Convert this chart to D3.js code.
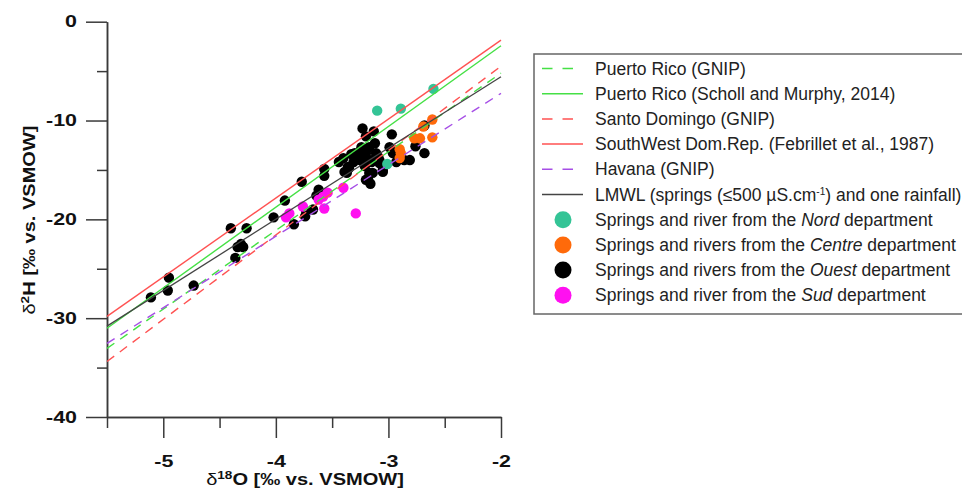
<!DOCTYPE html>
<html>
<head>
<meta charset="utf-8">
<script src="https://cdn.jsdelivr.net/npm/d3@7"></script>
<style>
  body { margin: 0; background: #fff; }
  svg { display: block; font-family: "Liberation Sans", Arial, sans-serif; }
</style>
</head>
<body>
<svg id="chart" width="962" height="495"></svg>
<script>
// samples, [d18O, d2H]
const nord = [[-3.10, -9.0], [-2.89, -8.8], [-2.60, -6.8], [-3.01, -14.4]]

const centre = [
    [-2.61, -9.9], [-2.69, -10.6], [-2.61, -11.7], [-2.77, -11.8], [-2.72, -11.8],
    [-2.90, -12.9], [-2.89, -13.3], [-2.90, -13.8]
]

const ouest = [
    [-5.11, -27.9], [-4.95, -25.9], [-4.96, -27.2], [-4.73, -26.7], [-4.40, -20.9],
    [-4.26, -20.9], [-4.34, -22.8], [-4.31, -22.5], [-4.29, -22.8], [-4.36, -23.9],
    [-4.02, -19.8], [-3.92, -18.1], [-3.84, -20.5], [-3.77, -16.2], [-3.74, -19.7],
    [-3.73, -19.2], [-3.67, -19.0], [-3.64, -17.6], [-3.62, -17.0], [-3.57, -14.9],
    [-3.57, -15.6], [-3.44, -14.2], [-3.40, -13.8], [-3.37, -15.3], [-3.35, -14.8],
    [-3.33, -13.4], [-3.31, -14.2], [-3.26, -13.8], [-3.23, -10.8], [-3.20, -11.6],
    [-3.13, -11.1], [-3.24, -12.7], [-3.20, -13.3], [-3.21, -14.6], [-3.20, -16.0],
    [-3.16, -16.4], [-3.12, -12.3], [-3.11, -13.3], [-3.14, -14.0], [-3.17, -15.3],
    [-3.09, -13.7], [-3.08, -14.3], [-3.05, -15.2], [-2.97, -11.4], [-2.99, -12.7],
    [-2.96, -13.3], [-2.93, -14.2], [-2.81, -14.0], [-2.76, -12.6], [-2.68, -10.5],
    [-2.68, -13.3], [-3.30, -13.3], [-3.24, -13.0], [-3.25, -14.0], [-3.20, -13.7],
    [-3.21, -14.5], [-3.15, -14.2], [-3.17, -12.7], [-3.08, -14.0], [-3.14, -15.3],
    [-3.18, -16.0], [-3.05, -15.0], [-2.93, -13.2], [-3.39, -15.2], [-3.36, -14.7],
    [-2.86, -14.0]
]

const sud = [
    [-3.91, -19.8], [-3.88, -19.4], [-3.76, -18.7], [-3.62, -18.0], [-3.58, -17.7],
    [-3.54, -17.3], [-3.57, -18.9], [-3.40, -16.8], [-3.29, -19.4]
]

// meteoric water lines: d2H = slope * d18O + intercept
const lineNames = ['prGnip', 'prScholl', 'sdGnip', 'swDomRep', 'havana', 'lmwl']
const lineSlopes = [7.96, 8.17, 8.54, 7.99, 7.23, 7.21]
const lineIntercepts = [10.72, 13.91, 12.58, 14.12, 7.21, 8.85]

const xMajorTicks = [-5, -4, -3, -2]
const xMinorTicks = [-5.5, -4.5, -3.5, -2.5]
const yMajorTicks = [-40, -30, -20, -10, 0]
const yMinorTicks = [-35, -25, -15, -5]

const lineStyle = {
    prGnip: { color: '#45e045', dash: '9,7' },
    prScholl: { color: '#45e045', dash: null },
    sdGnip: { color: '#ff5252', dash: '9,7' },
    swDomRep: { color: '#ff5252', dash: null },
    havana: { color: '#a64ee6', dash: '9,7' },
    lmwl: { color: '#444', dash: null }
}

const groupColor = { nord: '#34c496', centre: '#ff6a0a', ouest: '#000', sud: '#ff10f0' }

const svg = d3.select('#chart')

const x = d3.scaleLinear().domain([-5.5, -2]).range([107, 501])
const y = d3.scaleLinear().domain([-40, 0]).range([417, 21.7])

const axisColor = '#3a3a3a'
const stretch = 1.3

const styleAxis = g => {
    g.selectAll('.domain, .tick line')
        .attr('stroke', axisColor)
        .attr('stroke-width', 1.5)
    g.selectAll('.tick text')
        .attr('fill', '#111')
        .attr('font-size', 16.5)
        .attr('font-weight', 'bold')
        .attr('font-family', '"Liberation Sans", Arial, sans-serif')
}

// x axis
svg.append('g')
    .attr('transform', `translate(0,${y(-40)})`)
    .call(d3.axisBottom(x).tickValues(xMinorTicks).tickSize(11).tickSizeOuter(0).tickFormat(''))
    .call(styleAxis)

const xAxis = svg.append('g')
    .attr('transform', `translate(0,${y(-40)})`)
    .call(d3.axisBottom(x).tickValues(xMajorTicks).tickSize(21).tickSizeOuter(0)
        .tickPadding(17).tickFormat(d => String(d)))
    .call(styleAxis)

xAxis.selectAll('.tick text').attr('transform', `scale(${stretch},1)`)

// y axis
svg.append('g')
    .attr('transform', `translate(${x(-5.5)},0)`)
    .call(d3.axisLeft(y).tickValues(yMinorTicks).tickSize(10).tickSizeOuter(0).tickFormat(''))
    .call(styleAxis)

const yAxis = svg.append('g')
    .attr('transform', `translate(${x(-5.5)},0)`)
    .call(d3.axisLeft(y).tickValues(yMajorTicks).tickSize(21).tickSizeOuter(0)
        .tickPadding(9).tickFormat(d => String(d)))
    .call(styleAxis)

yAxis.selectAll('.tick text')
    .attr('x', -30 / stretch)
    .attr('transform', `scale(${stretch},1)`)

// axis titles
const addTitle = (transform, sup, rest) => {
    const t = svg.append('text')
        .attr('transform', transform)
        .attr('text-anchor', 'middle')
        .attr('font-size', 17)
        .attr('font-weight', 'bold')
        .attr('fill', '#111')
    t.append('tspan').attr('font-weight', 'normal').text('δ')
    t.append('tspan').attr('font-size', 11.5).attr('dy', -6.5).text(sup)
    t.append('tspan').attr('dy', 6.5).text(rest)
}

addTitle('translate(305,485) scale(1.18,1)', '18', 'O [‰ vs. VSMOW]')
addTitle('translate(35,220) rotate(-90) scale(1.18,1)', '2', 'H [‰ vs. VSMOW]')

// points
const groups = [['ouest', ouest], ['sud', sud], ['centre', centre], ['nord', nord]]

groups.forEach(([name, values]) => {
    svg.append('g')
        .selectAll('circle')
        .data(values)
        .join('circle')
        .attr('cx', d => x(d[0]))
        .attr('cy', d => y(d[1]))
        .attr('r', 5.2)
        .attr('fill', groupColor[name])
})

// lines on top of the points
const line = d3.line().x(d => x(d[0])).y(d => y(d[1]))

lineNames.forEach((name, i) => {
    const ends = x.domain().map(v => [v, lineSlopes[i] * v + lineIntercepts[i]])
    svg.append('path')
        .attr('d', line(ends))
        .attr('fill', 'none')
        .attr('stroke', lineStyle[name].color)
        .attr('stroke-width', name === 'lmwl' ? 1.3 : 1.4)
        .attr('stroke-dasharray', lineStyle[name].dash)
})

// legend
const legend = svg.append('g')

legend.append('rect')
    .attr('x', 534)
    .attr('y', 54)
    .attr('width', 440)
    .attr('height', 260)
    .attr('fill', '#fff')
    .attr('stroke', '#666')
    .attr('stroke-width', 1.5)

const legendRows = [
    { kind: 'line', key: 'prGnip', parts: [['Puerto Rico (GNIP)']] },
    { kind: 'line', key: 'prScholl', parts: [['Puerto Rico (Scholl and Murphy, 2014)']] },
    { kind: 'line', key: 'sdGnip', parts: [['Santo Domingo (GNIP)']] },
    { kind: 'line', key: 'swDomRep', parts: [['SouthWest Dom.Rep. (Febrillet et al., 1987)']] },
    { kind: 'line', key: 'havana', parts: [['Havana (GNIP)']] },
    { kind: 'line', key: 'lmwl', parts: [['LMWL (springs (≤500 µS.cm'], ['-1', 'sup'], [') and one rainfall)']] },
    { kind: 'dot', key: 'nord', parts: [['Springs and river from the '], ['Nord', 'it'], [' department']] },
    { kind: 'dot', key: 'centre', parts: [['Springs and rivers from the '], ['Centre', 'it'], [' department']] },
    { kind: 'dot', key: 'ouest', parts: [['Springs and rivers from the '], ['Ouest', 'it'], [' department']] },
    { kind: 'dot', key: 'sud', parts: [['Springs and river from the '], ['Sud', 'it'], [' department']] }
]

legendRows.forEach((row, i) => {
    const cy = 68.5 + i * 25.2
    if (row.kind === 'line') {
        const st = lineStyle[row.key]
        legend.append('line')
            .attr('x1', 542)
            .attr('x2', st.dash ? 574 : 583)
            .attr('y1', cy)
            .attr('y2', cy)
            .attr('stroke', st.color)
            .attr('stroke-width', 1.5)
            .attr('stroke-dasharray', st.dash ? '10.5,10' : null)
    } else {
        legend.append('circle')
            .attr('cx', 563)
            .attr('cy', cy)
            .attr('r', 8.5)
            .attr('fill', groupColor[row.key])
    }

    const t = legend.append('text')
        .attr('x', 595)
        .attr('y', cy + 6)
        .attr('font-size', 17.5)
        .attr('fill', '#222')

    let prev = null
    row.parts.forEach(([str, mode]) => {
        const span = t.append('tspan').text(str)
        if (mode === 'it') span.attr('font-style', 'italic')
        if (mode === 'sup') span.attr('font-size', 10).attr('dy', -6)
        if (prev === 'sup') span.attr('dy', 6)
        prev = mode
    })
})
</script>
</body>
</html>
